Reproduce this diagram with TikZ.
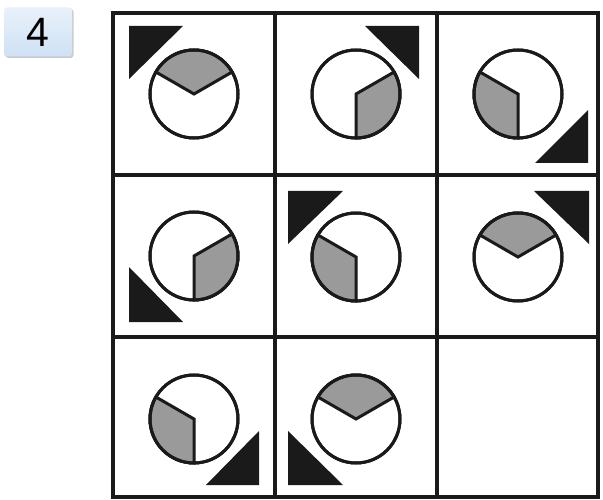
\documentclass[tikz,border=0pt]{standalone}
\usepackage{fontspec}
\setsansfont{Liberation Sans}
\usetikzlibrary{shadows}
\definecolor{sect}{HTML}{9A9A9A}
\definecolor{tri}{HTML}{1A1A1A}
\definecolor{lbltop}{HTML}{E8F1FB}
\definecolor{lblbot}{HTML}{CFE1F4}
\tikzset{
  gridline/.style={line width=3.6pt, draw=tri},
  ring/.style={line width=3pt, draw=tri},
  sector/.style={fill=sect, draw=tri, line width=3pt, line join=miter},
  wedge/.style={fill=tri},
  lblbox/.style={rounded corners=3pt, top color=lbltop, bottom color=lblbot,
    draw=none, drop shadow={shadow xshift=1.5pt, shadow yshift=-1.5pt, fill=black!40},
    minimum width=68pt, minimum height=49pt, inner sep=0pt,
    font=\sffamily\fontsize{41}{41}\selectfont}
}
% \pcell{cx}{cy}{start}{end}{tx}{ty}{dx}{dy}
\newcommand\pcell[8]{%
  \draw[ring, fill=white] (#1,#2) circle[radius=44];
  \filldraw[sector] (#1,#2) -- ++(#3:44) arc[start angle=#3, end angle=#4, radius=44] -- cycle;
  \draw[ring] (#1,#2) circle[radius=44];
  \fill[wedge] (#5,#6) -- ++(#7,0) -- ++(-#7,#8) -- cycle;
}
\begin{document}
\begin{tikzpicture}[x=1pt,y=-1pt]
\useasboundingbox (0,0) rectangle (603,500);
\fill[white] (0,0) rectangle (603,500);
\node[lblbox] (label) at (38,32) {4};
% grid
\draw[gridline] (113,13) rectangle (598,497);
\draw[gridline] (275,13) -- (275,497);
\draw[gridline] (437,13) -- (437,497);
\draw[gridline] (113,175) -- (598,175);
\draw[gridline] (113,337) -- (598,337);
% row 1
\pcell{194}{94}{-150}{-30}{129}{26}{54}{53}
\pcell{356}{94}{-30}{90}{419}{26}{-54}{53}
\pcell{518}{94}{90}{210}{588}{163}{-53}{-53}
% row 2
\pcell{194}{256}{-30}{90}{129}{322}{54}{-55}
\pcell{356}{257}{90}{210}{288}{191}{55}{53}
\pcell{518}{257}{-150}{-30}{589}{191}{-55}{53}
% row 3
\pcell{194}{419}{90}{210}{259}{485}{-53}{-54}
\pcell{356}{419}{-150}{-30}{288}{485}{55}{-54}
\end{tikzpicture}
\end{document}
